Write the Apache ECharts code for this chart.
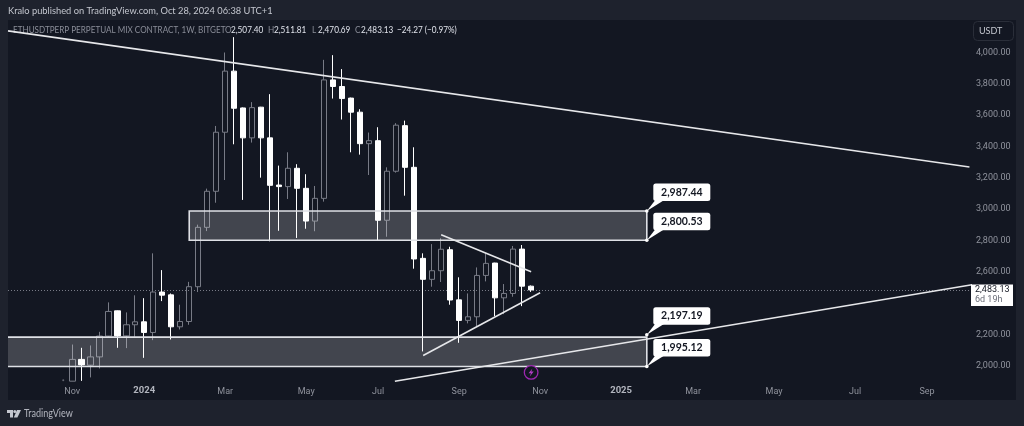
<!DOCTYPE html>
<html>
<head>
<meta charset="utf-8">
<style>html,body{margin:0;padding:0;background:#1e222d}#chart{width:1024px;height:426px}</style>
<script src="https://cdn.jsdelivr.net/npm/echarts@6/dist/echarts.min.js"></script>
</head>
<body>
<div id="chart"></div>
<script>
const weekDates = ['2023-11-06','2023-11-13','2023-11-20','2023-11-27','2023-12-04','2023-12-11','2023-12-18','2023-12-25',
'2024-01-01','2024-01-08','2024-01-15','2024-01-22','2024-01-29','2024-02-05','2024-02-12','2024-02-19','2024-02-26',
'2024-03-04','2024-03-11','2024-03-18','2024-03-25','2024-04-01','2024-04-08','2024-04-15','2024-04-22','2024-04-29',
'2024-05-06','2024-05-13','2024-05-20','2024-05-27','2024-06-03','2024-06-10','2024-06-17','2024-06-24',
'2024-07-01','2024-07-08','2024-07-15','2024-07-22','2024-07-29','2024-08-05','2024-08-12','2024-08-19','2024-08-26',
'2024-09-02','2024-09-09','2024-09-16','2024-09-23','2024-09-30','2024-10-07','2024-10-14','2024-10-21','2024-10-28'];
// open, close, low, high
const ohlc = [
[1901,2040,1901,2135],[2040,2005,1903,2114],[2003,2056,1925,2129],[2056,2189,1982,2216],
[2189,2346,2184,2404],[2350,2190,2114,2352],[2190,2261,2112,2340],[2261,2280,2184,2449],[2280,2212,2050,2431],
[2212,2470,2163,2717],[2470,2450,2412,2610],[2452,2248,2167,2461],[2248,2282,2231,2389],[2282,2504,2261,2535],
[2504,2883,2470,2900],[2883,3113,2859,3130],[3113,3490,3040,3530],[3490,3880,3185,3999],[3880,3643,3413,4097],
[3645,3454,3058,3648],[3454,3647,3424,3682],[3650,3454,3200,3652],[3454,3151,2794,3733],[3153,3143,2861,3277],
[3143,3260,3064,3362],[3260,3132,2815,3286],[3132,2923,2874,3222],[2923,3068,2858,3147],[3068,3824,3047,3952],
[3824,3782,3705,3982],[3782,3705,3571,3893],[3708,3618,3362,3711],[3618,3417,3347,3637],[3417,3436,3217,3488],
[3436,2928,2802,3522],[2928,3241,2823,3266],[3241,3535,3232,3548],[3532,3266,3085,3564],[3266,2681,2619,3394],
[2685,2551,2091,2717],[2551,2606,2504,2776],[2606,2743,2534,2813],[2740,2419,2389,2759],[2420,2289,2146,2564],
[2289,2312,2270,2461],[2312,2576,2252,2627],[2576,2653,2538,2717],[2655,2433,2316,2657],[2433,2461,2329,2521],
[2461,2744,2440,2764],[2744,2507.4,2380,2770],[2507.40,2483.13,2470.69,2511.81]];
const firstWeekTick = ['2023-10-30',1907];

const timeMin = '2023-09-17', timeMax = '2025-10-06';
const timeTickDates = ['2023-11-06','2024-01-01','2024-03-04','2024-05-06','2024-07-01','2024-09-02','2024-11-04','2025-01-06','2025-03-03','2025-05-05','2025-07-07','2025-09-01'];
const timeTickLabels = ['Nov','2024','Mar','May','Jul','Sep','Nov','2025','Mar','May','Jul','Sep'];
const priceTicks = [4000,3800,3600,3400,3200,3000,2800,2600,2200,2000];

const trendWedgeTop = [['2024-08-19',2836],['2024-10-28',2599]];
const trendWedgeBottom = [['2024-08-05',2065],['2024-11-04',2465]];
const trendLongDown = [[timeMin,4137],['2025-10-04',3268]];
const trendLongUp = [['2024-07-14',1901],[timeMax,2516]];

const zoneStarts = ['2024-02-05','2023-09-01'];
const zoneEnds = ['2025-01-26','2025-01-26'];
const zoneTops = [2987.44,2182];
const zoneBottoms = [2800.53,1995.12];
const calloutDate = '2025-01-26';
const calloutValues = [2987.44,2800.53,2197.19,1995.12];
const calloutLabels = ['2,987.44','2,800.53','2,197.19','1,995.12'];

const lastPrice = 2483.13;
const lastPriceLabel = '2,483.13';
const countdownLabel = '6d 19h';
const publisherText = 'Kralo published on TradingView.com, Oct 28, 2024 06:38 UTC+1';
const symbolText = 'ETHUSDTPERP PERPETUAL MIX CONTRACT, 1W, BITGET';
const ohlcLegend = [['O','2,507.40',225],['H','2,511.81',268],['L','2,470.69',312],['C','2,483.13',355]];
const changeText = '\u221224.27 (\u22120.97%)';
const currencyText = 'USDT';
const eventDate = '2024-10-28', eventPrice = 1957;

const FONT = 'Lato, "Open Sans", sans-serif';
const NUM = 'Roboto, Lato, sans-serif';
const ts = d => Date.parse(d + 'T00:00:00Z');
const fmtPrice = v => v.toLocaleString('en-US',{minimumFractionDigits:2,maximumFractionDigits:2});

const lineStyle = {color:'#e6e7ea',width:1.6};
const trend = (name,pts) => ({type:'line',name,data:pts.map(p=>[ts(p[0]),p[1]]),symbol:'none',z:6,silent:true,lineStyle,clip:true});

const legendGraphics = [];
ohlcLegend.forEach(r=>{
  legendGraphics.push({type:'text',x:r[2],y:30,scaleX:0.82,style:{text:r[0],fill:'#8a8d98',font:'10px '+FONT,textVerticalAlign:'middle'}});
  legendGraphics.push({type:'text',x:r[2]+6,y:30,scaleX:0.82,style:{text:r[1],fill:'#e0e3eb',font:'10px '+FONT,textVerticalAlign:'middle'}});
});

const chart = echarts.init(document.getElementById('chart'),null,{width:1024,height:426});
chart.setOption({
  animation:false,
  backgroundColor:'#1e222d',
  grid:{left:8,top:21,width:964,height:376,containLabel:false},
  xAxis:{type:'value',min:ts(timeMin),max:ts(timeMax),scale:true,
    axisLine:{show:false},axisTick:{show:false},splitLine:{show:false},
    axisLabel:{inside:true,margin:1,customValues:timeTickDates.map(ts),hideOverlap:false,
      color:'#90939d',fontSize:9,fontFamily:NUM,
      formatter:v=>{const i=timeTickDates.map(ts).indexOf(v);const t=timeTickLabels[i]||'';return /^\d{4}$/.test(t)?'{b|'+t+'}':t;},
      rich:{b:{color:'#b2b5be',fontSize:9.5,fontWeight:'bold',fontFamily:NUM}}}},
  yAxis:{type:'value',position:'right',min:1800,max:4200,interval:200,
    axisLine:{show:false},axisTick:{show:false},splitLine:{show:false},
    axisLabel:{margin:4,color:'#90939d',fontSize:9,fontFamily:NUM,showMinLabel:false,showMaxLabel:false,
      formatter:v=>priceTicks.indexOf(v)>=0?fmtPrice(v):''}},
  graphic:[
    {type:'rect',z:-10,silent:true,shape:{x:8,y:20,width:1008,height:380},style:{fill:'#131722'}},
    {type:'text',x:8,y:11,scaleX:0.93,style:{text:publisherText,fill:'#c4c7cf',font:'10px '+FONT,textVerticalAlign:'middle'}},
    {type:'text',x:13,y:30,scaleX:0.81,style:{text:symbolText,fill:'#8a8d98',font:'10px '+FONT,textVerticalAlign:'middle'}},
    ...legendGraphics,
    {type:'text',x:397,y:30,scaleX:0.82,style:{text:changeText,fill:'#e0e3eb',font:'10px '+FONT,textVerticalAlign:'middle'}},
    {type:'rect',shape:{x:973.5,y:21.5,width:40,height:19,r:4},style:{fill:'#131722',stroke:'#2a2e39',lineWidth:1}},
    {type:'text',x:979,y:31,scaleX:0.9,style:{text:currencyText,fill:'#c4c7cf',font:'10px '+FONT,textVerticalAlign:'middle'}},
    {type:'group',x:7,y:410,children:[
      {type:'polygon',shape:{points:[[0,0],[6,0],[6,7.4],[3,7.4],[3,3],[0,3]]},style:{fill:'#c4c7cf'}},
      {type:'circle',shape:{cx:7.8,cy:1.5,r:1.5},style:{fill:'#c4c7cf'}},
      {type:'polygon',shape:{points:[[10,0],[14,0],[10.4,7.4],[6.8,7.4]]},style:{fill:'#c4c7cf'}}
    ]},
    {type:'text',x:24,y:414,scaleX:0.86,style:{text:'TradingView',fill:'#b2b5be',font:'10.5px '+FONT,textVerticalAlign:'middle'}}
  ],
  series:[
    {type:'candlestick',name:'ETHUSDTPERP',z:2,silent:true,barWidth:6,clip:true,
      data:weekDates.map((d,i)=>[ts(d),...ohlc[i]]),
      encode:{x:0,y:[1,2,3,4]},
      itemStyle:{color:'rgba(0,0,0,0)',color0:'#ffffff',borderColor:'#787b86',borderColor0:'#ffffff',borderWidth:1},
      markLine:{silent:true,symbol:'none',z:1,label:{show:false},lineStyle:{color:'#787b86',type:[1,2],width:1},data:[{yAxis:lastPrice}]}
    },
    {type:'scatter',name:'firstWeek',z:2,silent:true,symbolSize:2,itemStyle:{color:'#787b86'},
      data:[[ts(firstWeekTick[0]),firstWeekTick[1]]]},
    {type:'custom',name:'zones',z:4,silent:true,clip:true,
      data:zoneStarts.map((d,i)=>[ts(d),zoneTops[i],ts(zoneEnds[i]),zoneBottoms[i]]),
      encode:{x:[0,2],y:[1,3]},
      renderItem:(params,api)=>{
        const a=api.coord([api.value(0),api.value(1)]);
        const b=api.coord([api.value(2),api.value(3)]);
        return {type:'rect',shape:{x:a[0],y:a[1],width:b[0]-a[0],height:b[1]-a[1]},
          style:{fill:'rgba(255,255,255,0.2)',stroke:'#dfe1e6',lineWidth:1.6}};
      }},
    trend('trendLongDown',trendLongDown),
    trend('trendLongUp',trendLongUp),
    trend('trendWedgeTop',trendWedgeTop),
    trend('trendWedgeBottom',trendWedgeBottom),
    {type:'custom',name:'callouts',z:8,silent:true,clip:false,
      data:calloutValues.map(v=>[ts(calloutDate),v]),
      encode:{x:0,y:1},
      renderItem:(params,api)=>{
        const p=api.coord([api.value(0),api.value(1)]);
        const x=p[0],y=p[1];
        const bx=x+6.5,by=y-27.5,bw=57,bh=17.5;
        return {type:'group',children:[
          {type:'polygon',shape:{points:[[x,y],[bx+2,by+bh-1],[bx+11,by+bh-1]]},style:{fill:'#ffffff'}},
          {type:'rect',shape:{x:bx,y:by,width:bw,height:bh,r:2.5},style:{fill:'#ffffff'}},
          {type:'circle',shape:{cx:x,cy:y,r:1.8},style:{fill:'#ffffff'}},
          {type:'text',x:bx+bw/2,y:by+bh/2,style:{text:calloutLabels[params.dataIndex],fill:'#131722',font:'bold 10.5px '+FONT,textAlign:'center',textVerticalAlign:'middle'}}
        ]};
      }},
    {type:'custom',name:'lastPriceTag',z:9,silent:true,clip:false,
      data:[[ts(timeMax),lastPrice]],encode:{x:0,y:1},
      renderItem:(params,api)=>{
        const p=api.coord([api.value(0),api.value(1)]);
        const x=p[0]-1,y=p[1];
        return {type:'group',children:[
          {type:'rect',shape:{x:x,y:y-5.5,width:42,height:21.5},style:{fill:'#ffffff'}},
          {type:'text',x:x+4,y:y,style:{text:lastPriceLabel,fill:'#131722',font:'9px '+NUM,textVerticalAlign:'middle'}},
          {type:'text',x:x+4,y:y+10,style:{text:countdownLabel,fill:'#6a6d78',font:'9px '+NUM,textVerticalAlign:'middle'}}
        ]};
      }},
    {type:'custom',name:'eventMarker',z:7,silent:true,clip:false,
      data:[[ts(eventDate),eventPrice]],encode:{x:0,y:1},
      renderItem:(params,api)=>{
        const p=api.coord([api.value(0),api.value(1)]);
        const x=p[0],y=p[1];
        return {type:'group',children:[
          {type:'circle',shape:{cx:x,cy:y,r:6.8},style:{fill:'#131722',stroke:'#9c27b0',lineWidth:1.3}},
          {type:'polygon',shape:{points:[[x+1.3,y-4],[x-2.6,y+0.8],[x-0.2,y+0.8],[x-1.3,y+4],[x+2.6,y-0.8],[x+0.2,y-0.8]]},style:{fill:'#b03cc4'}}
        ]};
      }}
  ]
});
</script>
</body>
</html>
